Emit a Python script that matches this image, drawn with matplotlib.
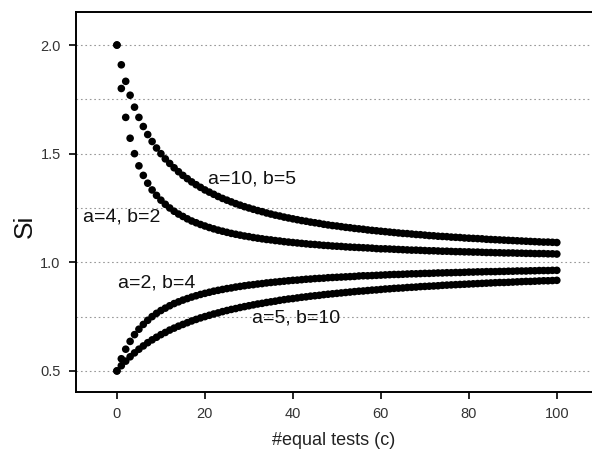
import numpy as np
import matplotlib.pyplot as plt

plt.rcParams['font.family'] = ['Liberation Sans', 'DejaVu Sans']

# number of equal tests (x axis)
tests = list(range(101))

# Si values, one per c = 0..100
si_a10_b5 = [
    2.000, 1.909, 1.833, 1.769, 1.714, 1.667, 1.625, 1.588, 1.556, 1.526,
    1.500, 1.476, 1.455, 1.435, 1.417, 1.400, 1.385, 1.370, 1.357, 1.345,
    1.333, 1.323, 1.313, 1.303, 1.294, 1.286, 1.278, 1.270, 1.263, 1.256,
    1.250, 1.244, 1.238, 1.233, 1.227, 1.222, 1.217, 1.213, 1.208, 1.204,
    1.200, 1.196, 1.192, 1.189, 1.185, 1.182, 1.179, 1.175, 1.172, 1.169,
    1.167, 1.164, 1.161, 1.159, 1.156, 1.154, 1.152, 1.149, 1.147, 1.145,
    1.143, 1.141, 1.139, 1.137, 1.135, 1.133, 1.132, 1.130, 1.128, 1.127,
    1.125, 1.123, 1.122, 1.120, 1.119, 1.118, 1.116, 1.115, 1.114, 1.112,
    1.111, 1.110, 1.109, 1.108, 1.106, 1.105, 1.104, 1.103, 1.102, 1.101,
    1.100, 1.099, 1.098, 1.097, 1.096, 1.095, 1.094, 1.093, 1.093, 1.092,
    1.091]
si_a4_b2 = [
    2.000, 1.800, 1.667, 1.571, 1.500, 1.444, 1.400, 1.364, 1.333, 1.308,
    1.286, 1.267, 1.250, 1.235, 1.222, 1.211, 1.200, 1.190, 1.182, 1.174,
    1.167, 1.160, 1.154, 1.148, 1.143, 1.138, 1.133, 1.129, 1.125, 1.121,
    1.118, 1.114, 1.111, 1.108, 1.105, 1.103, 1.100, 1.098, 1.095, 1.093,
    1.091, 1.089, 1.087, 1.085, 1.083, 1.082, 1.080, 1.078, 1.077, 1.075,
    1.074, 1.073, 1.071, 1.070, 1.069, 1.068, 1.067, 1.066, 1.065, 1.063,
    1.062, 1.062, 1.061, 1.060, 1.059, 1.058, 1.057, 1.056, 1.056, 1.055,
    1.054, 1.053, 1.053, 1.052, 1.051, 1.051, 1.050, 1.049, 1.049, 1.048,
    1.048, 1.047, 1.047, 1.046, 1.045, 1.045, 1.044, 1.044, 1.043, 1.043,
    1.043, 1.042, 1.042, 1.041, 1.041, 1.040, 1.040, 1.040, 1.039, 1.039,
    1.038]
si_a2_b4 = [
    0.500, 0.556, 0.600, 0.636, 0.667, 0.692, 0.714, 0.733, 0.750, 0.765,
    0.778, 0.789, 0.800, 0.810, 0.818, 0.826, 0.833, 0.840, 0.846, 0.852,
    0.857, 0.862, 0.867, 0.871, 0.875, 0.879, 0.882, 0.886, 0.889, 0.892,
    0.895, 0.897, 0.900, 0.902, 0.905, 0.907, 0.909, 0.911, 0.913, 0.915,
    0.917, 0.918, 0.920, 0.922, 0.923, 0.925, 0.926, 0.927, 0.929, 0.930,
    0.931, 0.932, 0.933, 0.934, 0.935, 0.937, 0.938, 0.938, 0.939, 0.940,
    0.941, 0.942, 0.943, 0.944, 0.944, 0.945, 0.946, 0.947, 0.947, 0.948,
    0.949, 0.949, 0.950, 0.951, 0.951, 0.952, 0.952, 0.953, 0.953, 0.954,
    0.955, 0.955, 0.956, 0.956, 0.957, 0.957, 0.957, 0.958, 0.958, 0.959,
    0.959, 0.960, 0.960, 0.960, 0.961, 0.961, 0.962, 0.962, 0.962, 0.963,
    0.963]
si_a5_b10 = [
    0.500, 0.524, 0.545, 0.565, 0.583, 0.600, 0.615, 0.630, 0.643, 0.655,
    0.667, 0.677, 0.688, 0.697, 0.706, 0.714, 0.722, 0.730, 0.737, 0.744,
    0.750, 0.756, 0.762, 0.767, 0.773, 0.778, 0.783, 0.787, 0.792, 0.796,
    0.800, 0.804, 0.808, 0.811, 0.815, 0.818, 0.821, 0.825, 0.828, 0.831,
    0.833, 0.836, 0.839, 0.841, 0.844, 0.846, 0.848, 0.851, 0.853, 0.855,
    0.857, 0.859, 0.861, 0.863, 0.865, 0.867, 0.868, 0.870, 0.872, 0.873,
    0.875, 0.877, 0.878, 0.880, 0.881, 0.882, 0.884, 0.885, 0.886, 0.888,
    0.889, 0.890, 0.891, 0.892, 0.894, 0.895, 0.896, 0.897, 0.898, 0.899,
    0.900, 0.901, 0.902, 0.903, 0.904, 0.905, 0.906, 0.907, 0.907, 0.908,
    0.909, 0.910, 0.911, 0.912, 0.912, 0.913, 0.914, 0.915, 0.915, 0.916,
    0.917]

series = [si_a10_b5, si_a4_b2, si_a2_b4, si_a5_b10]
labels = ['a=10, b=5', 'a=4, b=2', 'a=2, b=4', 'a=5, b=10']
label_pos = [(30.7, 1.385), (1.0, 1.21), (9.1, 0.905), (40.7, 0.744)]

fig = plt.figure(figsize=(5.92, 4.5), dpi=100)
ax = fig.add_axes([0.1284, 0.1289, 0.8716, 0.8444])

# dotted horizontal grid
for g in np.arange(0.5, 2.01, 0.25):
    ax.axhline(g, color='#999999', linestyle=(0, (1.5, 2.5)), linewidth=0.8, zorder=0)

for s in series:
    ax.scatter(tests, s, s=30, color='black', edgecolors='none', zorder=3)

for lab, (lx, ly) in zip(labels, label_pos):
    ax.text(lx, ly, lab, ha='center', va='center', fontsize=14, color='#111111')

ax.set_xlim(-9.3, 108)
ax.set_ylim(0.403, 2.152)
ax.set_xticks([0, 20, 40, 60, 80, 100])
ax.set_yticks([0.5, 1.0, 1.5, 2.0])
ax.set_yticklabels(['0.5', '1.0', '1.5', '2.0'])

ax.spines['right'].set_visible(False)
for sp in ['left', 'bottom', 'top']:
    ax.spines[sp].set_linewidth(1.4)
ax.tick_params(direction='out', length=5, width=1.2, labelsize=10.5,
               labelcolor='#333333', pad=6)

ax.set_xlabel('#equal tests (c)', fontsize=13, color='#222222', labelpad=8)
ax.set_ylabel('Si', fontsize=19, color='#111111')
ax.yaxis.set_label_coords(-0.076, 0.437)

fig.savefig('out.png', dpi=100)
